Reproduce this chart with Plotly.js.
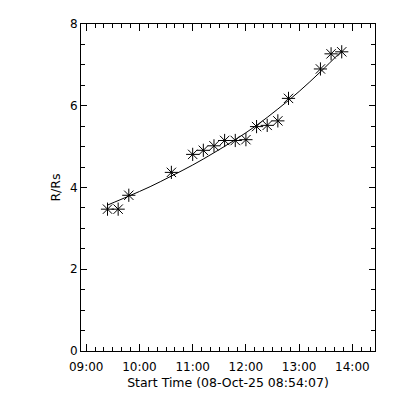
<!DOCTYPE html>
<html>
<head>
<meta charset="utf-8">
<script src="https://cdn.plot.ly/plotly-3.0.1.min.js"></script>
<style>html,body{margin:0;padding:0;background:#fff;}#chart{width:400px;height:400px;}</style>
</head>
<body>
<div id="chart"></div>
<script>
// Measured points (time of observation, height in solar radii)
const obsTimes = ["09:24","09:36","09:48","10:36","11:00","11:12","11:24","11:36","11:48","12:00","12:12","12:24","12:36","12:48","13:24","13:36","13:48"];
const obsHeights = [3.47,3.47,3.81,4.37,4.81,4.91,5.02,5.15,5.15,5.17,5.49,5.52,5.63,6.18,6.90,7.27,7.32];
// Fitted curve
const fitTimes = ["09:24","09:48","10:12","10:36","11:00","11:24","11:48","12:12","12:36","13:00","13:24","13:48"];
const fitHeights = [3.57,3.79,4.02,4.28,4.55,4.85,5.17,5.52,5.92,6.35,6.83,7.34];
const day = "2025-10-08 ";
const xTitle = "Start Time (08-Oct-25 08:54:07)";
const yTitle = "R/Rs";

const toDate = a => a.map(t => day + t + ":00");
const font = {family: "DejaVu Sans, sans-serif", size: 12, color: "#000"};

const traces = [
  {x: toDate(fitTimes), y: fitHeights, mode: "lines", line: {color: "#000", width: 1, shape: "spline"}, hoverinfo: "skip"},
  {x: toDate(obsTimes), y: obsHeights, mode: "markers", marker: {symbol: "asterisk-open", size: 11, color: "#000", line: {color: "#000", width: 1}}}
];

const layout = {
  width: 400, height: 400,
  margin: {l: 81, r: 25, t: 24, b: 49, pad: 0},
  paper_bgcolor: "#fff", plot_bgcolor: "#fff",
  showlegend: false,
  font: font,
  xaxis: {
    type: "date",
    range: [day + "08:54:07", day + "14:25:30"],
    tick0: day + "09:00:00", dtick: 3600000, tickformat: "%H:%M",
    ticks: "inside", ticklen: 7, tickwidth: 1, tickcolor: "#000",
    ticklabelstandoff: 5,
    minor: {dtick: 600000, ticks: "inside", ticklen: 4, tickwidth: 1, tickcolor: "#000"},
    showline: true, linecolor: "#000", linewidth: 1, mirror: "ticks",
    showgrid: false, zeroline: false,
    tickfont: {family: font.family, size: 12, color: "#000"},
    title: {text: xTitle, font: {family: font.family, size: 12.5, color: "#000"}, standoff: 4},
    automargin: false
  },
  yaxis: {
    range: [0, 8], dtick: 2, tick0: 0,
    ticks: "inside", ticklen: 6, tickwidth: 1, tickcolor: "#000",
    minor: {dtick: 0.5, ticks: "inside", ticklen: 4, tickwidth: 1, tickcolor: "#000"},
    showline: true, linecolor: "#000", linewidth: 1, mirror: "ticks",
    showgrid: false, zeroline: false,
    tickfont: {family: font.family, size: 12, color: "#000"},
    title: {text: yTitle, font: {family: font.family, size: 12.5, color: "#000"}, standoff: 6},
    automargin: false
  }
};

Plotly.newPlot("chart", traces, layout, {staticPlot: true, displayModeBar: false});
</script>
</body>
</html>
